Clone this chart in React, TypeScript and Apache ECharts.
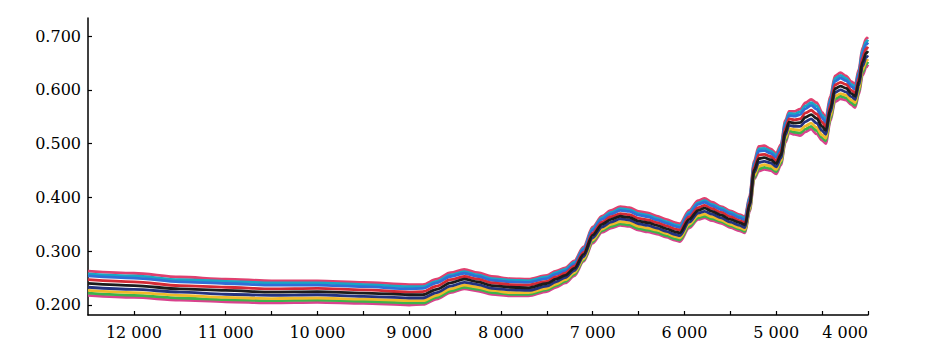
import React, { useEffect, useRef } from "react";
import * as echarts from "echarts";

// Wavenumber (cm-1) sample positions, read along the x axis
const wavenumbers = [12500, 12000, 11500, 11000, 10500, 10000, 9500, 9000, 8850, 8700, 8550, 8400, 8250, 8100, 7900, 7700, 7500, 7400, 7300, 7200, 7100, 7000, 6900, 6800, 6700, 6600, 6500, 6400, 6300, 6200, 6100, 6050, 5950, 5850, 5780, 5700, 5600, 5500, 5400, 5340, 5290, 5240, 5190, 5130, 5060, 5000, 4950, 4900, 4860, 4800, 4740, 4680, 4620, 4560, 4500, 4460, 4410, 4360, 4300, 4240, 4180, 4140, 4100, 4060, 4020, 4000];

// Absorbance spectra (bottom of the bundle to top)
const spectrumA = [.218, .214, .209, .206, .204, .205, .203, .200, .201, .211, .223, .230, .226, .220, .217, .217, .225, .233, .241, .254, .281, .315, .335, .343, .348, .346, .339, .336, .332, .326, .320, .318, .343, .359, .362, .357, .352, .344, .338, .334, .374, .434, .449, .452, .450, .444, .460, .502, .520, .517, .515, .522, .527, .518, .506, .500, .542, .578, .583, .581, .572, .567, .592, .627, .642, .647];
const spectrumB = [.222, .218, .213, .210, .208, .209, .207, .204, .204, .214, .226, .233, .229, .223, .220, .220, .228, .236, .244, .257, .283, .318, .338, .346, .351, .349, .342, .339, .335, .329, .323, .321, .346, .362, .365, .360, .355, .347, .341, .337, .377, .437, .453, .456, .454, .448, .464, .506, .524, .521, .520, .527, .532, .524, .511, .505, .546, .583, .588, .585, .576, .571, .596, .632, .647, .652];
const spectrumC = [.227, .223, .218, .214, .212, .213, .211, .208, .208, .218, .230, .237, .233, .227, .223, .223, .231, .239, .247, .260, .286, .321, .341, .350, .355, .353, .346, .343, .339, .333, .327, .325, .350, .366, .369, .364, .358, .350, .344, .340, .380, .441, .458, .461, .458, .452, .468, .510, .528, .526, .525, .533, .538, .530, .516, .510, .551, .588, .593, .590, .581, .576, .601, .637, .653, .657];
const spectrumD = [.233, .229, .224, .220, .218, .219, .216, .213, .213, .223, .235, .242, .238, .231, .228, .227, .235, .243, .251, .264, .290, .325, .345, .354, .360, .358, .351, .348, .343, .337, .331, .329, .354, .371, .374, .369, .362, .354, .348, .344, .384, .446, .465, .467, .464, .457, .473, .516, .534, .532, .532, .541, .546, .538, .524, .517, .558, .595, .600, .596, .587, .582, .608, .644, .660, .664];
const spectrumE = [.240, .236, .230, .227, .224, .225, .222, .219, .219, .229, .241, .248, .243, .236, .233, .232, .240, .248, .255, .268, .294, .330, .350, .359, .365, .363, .356, .353, .348, .342, .336, .334, .359, .376, .380, .374, .367, .359, .353, .349, .388, .451, .472, .474, .470, .463, .479, .522, .540, .538, .539, .549, .554, .547, .532, .524, .565, .602, .607, .603, .593, .588, .615, .652, .668, .672];
const spectrumF = [.247, .243, .236, .233, .230, .231, .228, .224, .225, .235, .247, .253, .248, .241, .238, .237, .244, .252, .259, .272, .298, .334, .354, .364, .370, .368, .361, .358, .353, .347, .341, .339, .364, .381, .385, .379, .372, .364, .357, .353, .392, .456, .479, .480, .476, .468, .484, .528, .546, .544, .546, .557, .562, .555, .540, .531, .572, .609, .614, .610, .599, .594, .622, .660, .676, .680];
const spectrumG = [.254, .250, .243, .240, .237, .237, .234, .230, .231, .241, .253, .259, .253, .246, .243, .242, .249, .257, .263, .276, .303, .339, .359, .369, .376, .374, .367, .364, .358, .352, .346, .344, .369, .387, .391, .384, .377, .369, .362, .358, .397, .461, .486, .487, .482, .474, .490, .535, .552, .551, .554, .565, .571, .564, .548, .538, .579, .616, .622, .617, .606, .601, .629, .668, .684, .688];
const spectrumH = [.258, .254, .247, .244, .241, .241, .238, .234, .234, .244, .256, .262, .256, .249, .246, .245, .252, .260, .266, .279, .305, .342, .362, .372, .379, .377, .370, .367, .361, .355, .349, .347, .372, .390, .394, .387, .380, .372, .365, .361, .400, .464, .490, .491, .486, .478, .494, .539, .556, .555, .559, .570, .576, .570, .553, .543, .583, .621, .627, .621, .610, .605, .633, .673, .689, .693];
const spectrumI = [.263, .259, .252, .248, .245, .245, .242, .238, .238, .248, .260, .266, .260, .253, .249, .248, .255, .263, .269, .282, .308, .345, .365, .376, .383, .381, .374, .371, .365, .359, .353, .351, .376, .394, .398, .391, .383, .375, .368, .364, .403, .468, .495, .496, .490, .482, .498, .543, .560, .560, .564, .576, .582, .576, .558, .548, .588, .626, .632, .626, .615, .610, .638, .678, .695, .698];

const spectra = [spectrumA, spectrumI, spectrumB, spectrumH, spectrumC, spectrumG, spectrumD, spectrumF, spectrumE];
const spectrumColors = ["#d9428e", "#e0406f", "#3cb44b", "#19a7c4", "#f0b92a", "#2f6fd6", "#24337f", "#d42a35", "#1c1c1c"];

// Axis ticks and labels
const xTickValues = [4000, 4500, 5000, 5500, 6000, 6500, 7000, 7500, 8000, 8500, 9000, 9500, 10000, 10500, 11000, 11500, 12000];
const xLabelValues = [4000, 5000, 6000, 7000, 8000, 9000, 10000, 11000, 12000];
const yTickValues = [0.2, 0.3, 0.4, 0.5, 0.6, 0.7];

export default function App() {
  const ref = useRef<HTMLDivElement>(null);
  useEffect(() => {
    if (!ref.current) return;
    const chart = echarts.init(ref.current, null, { renderer: "svg" });
    const font = "'DejaVu Serif', 'Liberation Serif', serif";
    chart.setOption({
      animation: false,
      backgroundColor: "#ffffff",
      grid: { left: 88, right: 64, top: 18, bottom: 34 },
      xAxis: {
        type: "value",
        inverse: true,
        min: 4000,
        max: 12500,
        axisLine: { show: true, onZero: false, lineStyle: { color: "#000", width: 1.5 } },
        axisTick: { show: true, inside: true, length: 4, customValues: xTickValues, lineStyle: { color: "#000", width: 1.2 } },
        axisLabel: {
          customValues: xLabelValues,
          margin: 9,
          color: "#000",
          fontFamily: font,
          fontSize: 16,
          alignMinLabel: "right",
          formatter: (v: number) => {
            const s = String(Math.round(v));
            return s.length > 3 ? s.slice(0, s.length - 3) + " " + s.slice(-3) : s;
          },
        },
        splitLine: { show: false },
      },
      yAxis: {
        type: "value",
        min: 0.1814,
        max: 0.7335,
        axisLine: { show: true, onZero: false, lineStyle: { color: "#000", width: 1.5 } },
        axisTick: { show: true, inside: true, length: 4, customValues: yTickValues, lineStyle: { color: "#000", width: 1.2 } },
        axisLabel: {
          customValues: yTickValues,
          margin: 7,
          color: "#000",
          fontFamily: font,
          fontSize: 16,
          formatter: (v: number) => v.toFixed(3),
        },
        splitLine: { show: false },
      },
      series: spectra.map((s, i) => ({
        type: "line",
        name: "S" + (i + 1),
        data: wavenumbers.map((w, j) => [w, s[j]]),
        showSymbol: false,
        smooth: 0.3,
        smoothMonotone: "x",
        lineStyle: { width: 2.8, color: spectrumColors[i] },
        itemStyle: { color: spectrumColors[i] },
        silent: true,
      })),
    });
    return () => chart.dispose();
  }, []);
  return <div ref={ref} style={{ position: "fixed", left: 0, top: 0, width: 932, height: 349 }} />;
}
